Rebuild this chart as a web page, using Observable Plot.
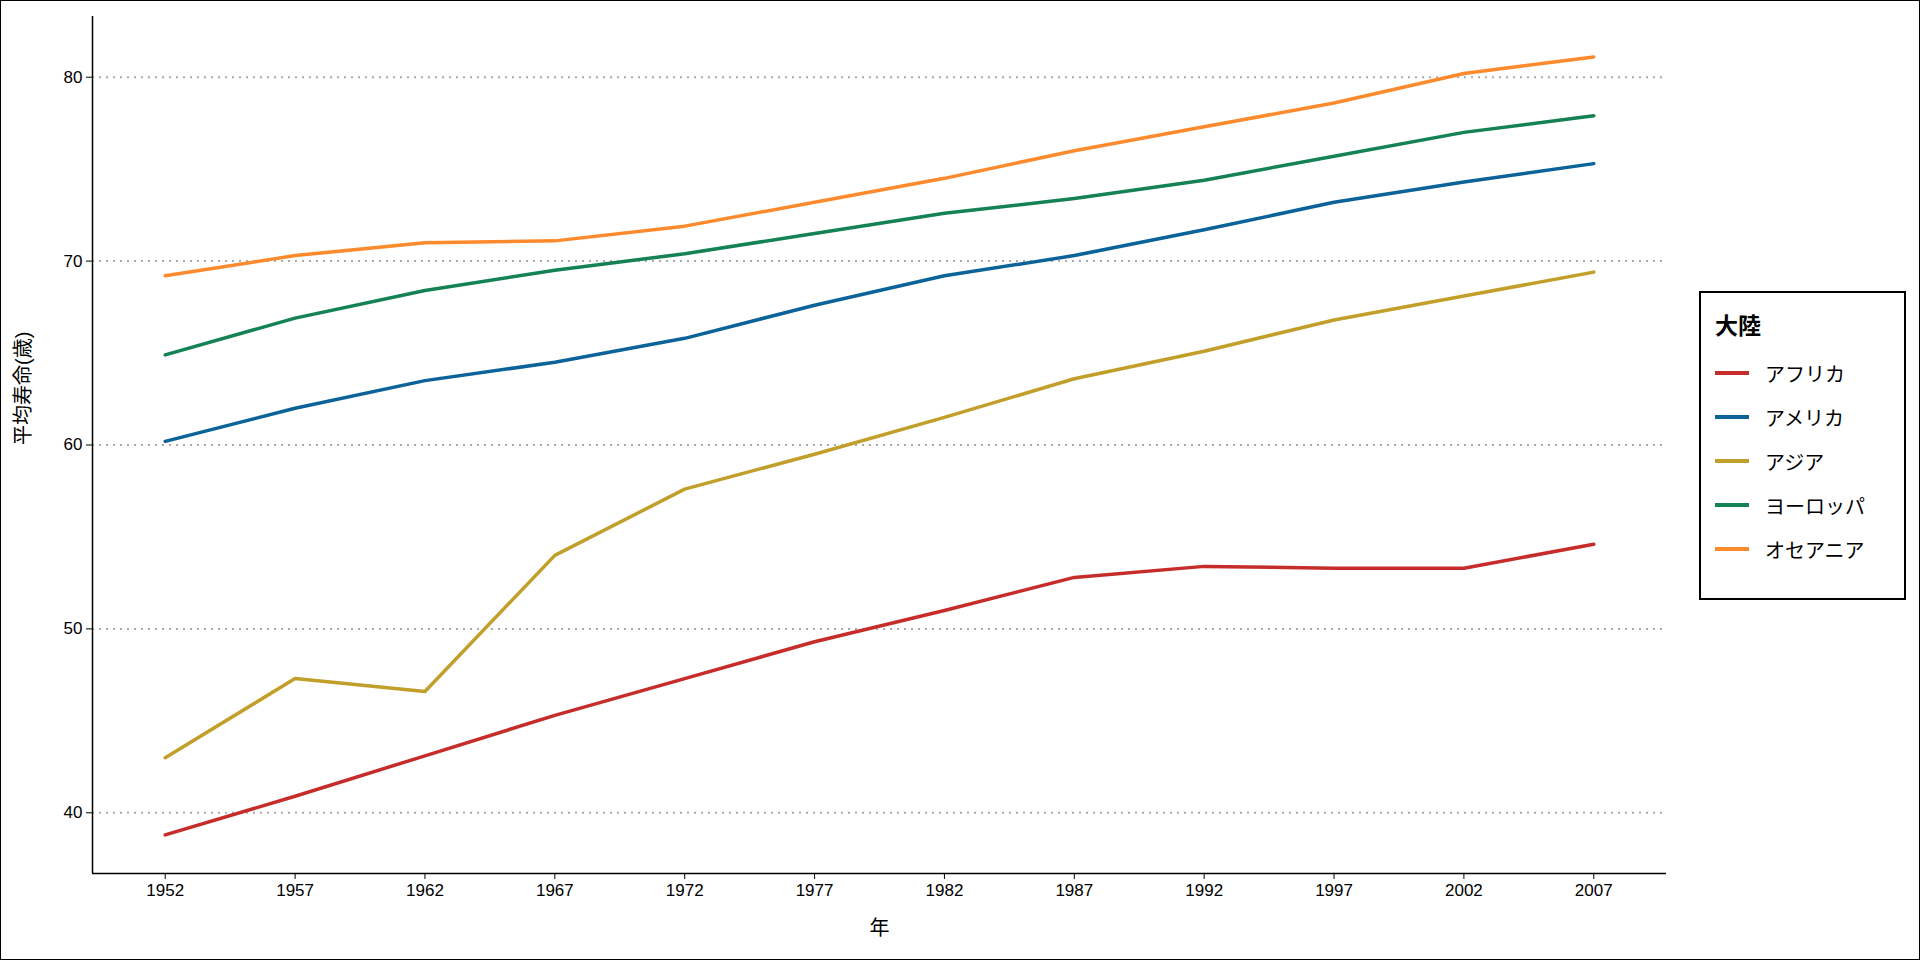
<!DOCTYPE html>
<html><head><meta charset="utf-8">
<script src="https://cdn.jsdelivr.net/npm/d3@7"></script>
<script src="https://cdn.jsdelivr.net/npm/@observablehq/plot@0.6"></script>
<style>
body{margin:0;font-family:"Liberation Sans","Noto Sans CJK JP",sans-serif;}
#wrap{position:relative;width:1918px;height:958px;border:1px solid #000;background:#fff;overflow:hidden}
#legend{position:absolute;left:1698px;top:290px;width:207px;height:309px;border:2px solid #000;box-sizing:border-box;padding:14px 14px;font-size:20px}
#legend .t{font-weight:bold;font-size:23px;margin-bottom:10px}
#legend .r{display:flex;align-items:center;height:44px}
#legend .s{width:34px;height:4px;margin-right:16px}
</style></head><body>
<div id="wrap"><div id="chart"></div><div id="legend"></div></div>
<script>
const years = [1952,1957,1962,1967,1972,1977,1982,1987,1992,1997,2002,2007];
const continents = ["アフリカ","アメリカ","アジア","ヨーロッパ","オセアニア"];
const colors = ["#c62d2a","#0b6399","#c29f2a","#148254","#fd8a2d"];
const africa  = [38.8,40.9,43.1,45.3,47.3,49.3,51.0,52.8,53.4,53.3,53.3,54.6];
const america = [60.2,62.0,63.5,64.5,65.8,67.6,69.2,70.3,71.7,73.2,74.3,75.3];
const asia    = [43.0,47.3,46.6,54.0,57.6,59.5,61.5,63.6,65.1,66.8,68.1,69.4];
const europe  = [64.9,66.9,68.4,69.5,70.4,71.5,72.6,73.4,74.4,75.7,77.0,77.9];
const oceania = [69.2,70.3,71.0,71.1,71.9,73.2,74.5,76.0,77.3,78.6,80.2,81.1];
const series = [africa,america,asia,europe,oceania];
const rows = series.flatMap((s,i)=>s.map((v,j)=>({year:years[j],value:v,continent:continents[i]})));
const xDom = [1949.2,2009.8], yDom = [36.7,83.3];

const chart = Plot.plot({
  width:1690, height:958,
  marginLeft:91, marginBottom:86, marginTop:15, marginRight:25,
  style:{fontSize:"17px", fontFamily:"Liberation Sans, Noto Sans CJK JP, sans-serif", color:"#000"},
  x:{domain:xDom},
  y:{domain:yDom},
  color:{domain:continents, range:colors},
  marks:[
    Plot.gridY([40,50,60,70,80],{stroke:"#aaa",strokeOpacity:1,strokeDasharray:"2,5",strokeWidth:2}),
    Plot.ruleX([xDom[0]],{stroke:"#000",strokeWidth:1.5}),
    Plot.ruleY([yDom[0]],{stroke:"#000",strokeWidth:1.5}),
    Plot.axisX(years,{tickFormat:"d",tickSize:6,stroke:"#000",fill:"#000",label:null,tickPadding:4}),
    Plot.axisY([40,50,60,70,80],{tickSize:6,stroke:"#000",fill:"#000",label:null,tickPadding:4}),
    Plot.text(["年"],{frameAnchor:"bottom",dy:61,fontSize:20}),
    Plot.text(["平均寿命(歳)"],{frameAnchor:"left",dx:-69,rotate:-90,fontSize:20}),
    Plot.line(rows,{x:"year",y:"value",stroke:"continent",strokeWidth:3.5})
  ]
});
d3.select("#chart").append(()=>chart);
const lg = d3.select("#legend");
lg.append("div").attr("class","t").text("大陸");
continents.forEach((c,i)=>{
  const r = lg.append("div").attr("class","r");
  r.append("div").attr("class","s").style("background",colors[i]);
  r.append("span").text(c);
});
</script></body></html>
